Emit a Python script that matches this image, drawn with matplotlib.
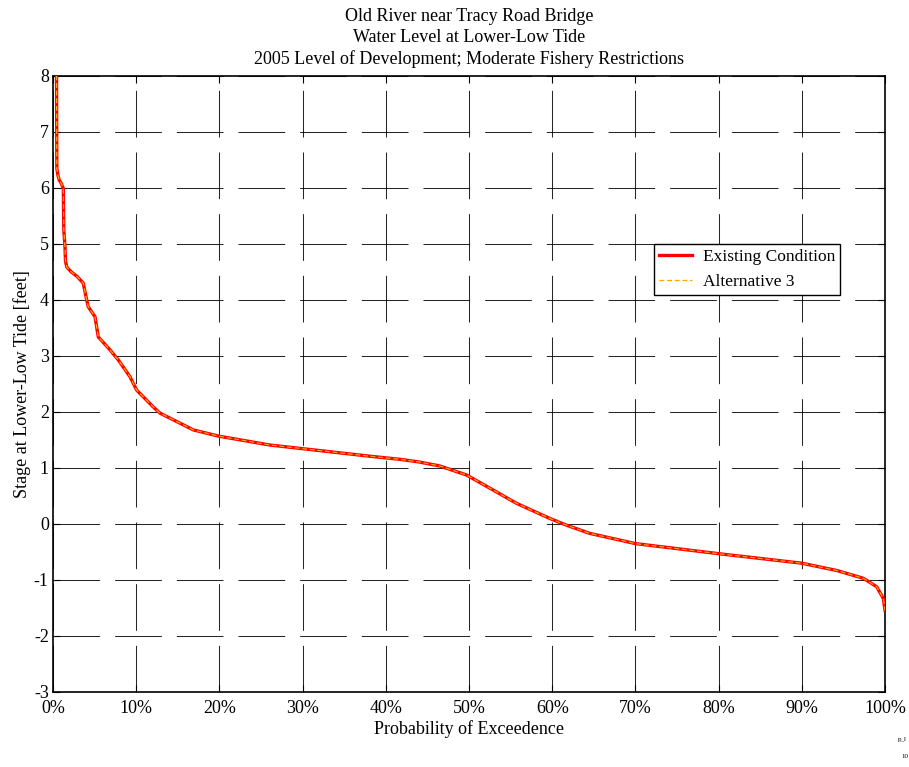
import matplotlib
matplotlib.use("Agg")
import matplotlib.pyplot as plt
from matplotlib.ticker import FixedLocator, FuncFormatter

plt.rcParams['font.family'] = ['Liberation Serif', 'DejaVu Serif']
plt.rcParams['axes.unicode_minus'] = False
plt.rcParams['lines.scale_dashes'] = False

# Probability of exceedence (%) and stage (feet)
exceed_pct = [0.0, 0.30, 0.42, 0.46, 0.60, 0.76, 1.00, 1.24, 1.30, 1.44, 1.50, 1.65,
              2.20, 2.90, 3.64, 4.05, 4.24, 5.05, 5.44, 6.85, 7.85, 9.25, 10.06,
              12.05, 12.86, 14.06, 16.87, 19.87, 26.08, 32.1, 38.1, 41.7,
              43.9, 46.5, 49.7, 52.9, 55.7, 59.7, 61.7, 64.5, 70.0, 80.0,
              90.0, 94.2, 97.4, 99.0, 99.8, 100.0]
existing = [12.0, 9.5, 8.2, 6.35, 6.22, 6.14, 6.08, 5.99, 5.25, 4.95, 4.70, 4.59,
            4.50, 4.42, 4.30, 4.00, 3.88, 3.70, 3.34, 3.11, 2.93, 2.63, 2.39,
            2.09, 1.98, 1.89, 1.68, 1.57, 1.41, 1.31, 1.21, 1.155,
            1.11, 1.036, 0.875, 0.607, 0.37, 0.10, -0.02, -0.167, -0.35, -0.53,
            -0.70, -0.83, -0.97, -1.12, -1.33, -1.54]
alternative3 = [12.0, 9.5, 8.2, 6.35, 6.22, 6.14, 6.08, 5.99, 5.25, 4.95, 4.70, 4.59,
                4.50, 4.42, 4.30, 4.00, 3.88, 3.70, 3.34, 3.11, 2.93, 2.63, 2.39,
                2.09, 1.98, 1.89, 1.68, 1.57, 1.41, 1.31, 1.21, 1.155,
                1.11, 1.036, 0.875, 0.607, 0.37, 0.10, -0.02, -0.167, -0.35, -0.53,
                -0.70, -0.83, -0.97, -1.12, -1.33, -1.54]
x_ticks = [0, 10, 20, 30, 40, 50, 60, 70, 80, 90, 100]
y_ticks = [-3, -2, -1, 0, 1, 2, 3, 4, 5, 6, 7, 8]
title_lines = ["Old River near Tracy Road Bridge",
               "Water Level at Lower-Low Tide",
               "2005 Level of Development; Moderate Fishery Restrictions"]

fig = plt.figure(figsize=(9.09, 7.67), dpi=100)
ax = fig.add_axes([53/909, 1-692/767, (885-53)/909, (692-76)/767])

ax.plot(exceed_pct, existing, color='#FF0000', lw=2.4, label='Existing Condition',
        solid_joinstyle='round', zorder=3)
ax.plot(exceed_pct, alternative3, color='#FFA500', lw=0.9, linestyle=(0, (3.5, 2.0)),
        label='Alternative 3', zorder=4)

ax.set_xlim(0, 100)
ax.set_ylim(-3, 8)
ax.xaxis.set_major_locator(FixedLocator(x_ticks))
ax.yaxis.set_major_locator(FixedLocator(y_ticks))
ax.xaxis.set_major_formatter(FuncFormatter(lambda v, p: "%d%%" % round(v)))
ax.yaxis.set_major_formatter(FuncFormatter(lambda v, p: "%d" % round(v)))

ax.tick_params(direction='in', length=5, width=0.8, top=True, right=True,
               labelsize=13, pad=3, colors='black')
ax.tick_params(axis='x', pad=6)
for s in ax.spines.values():
    s.set_linewidth(1.2)
    s.set_color('black')

ax.grid(True, color='black', lw=0.75, linestyle=(0, (33.6, 10.8)), alpha=0.85)
ax.set_axisbelow(True)

ax.set_xlabel("Probability of Exceedence", fontsize=13, labelpad=2)
ax.set_ylabel("Stage at Lower-Low Tide [feet]", fontsize=13, labelpad=2)
ax.set_title("\n".join(title_lines), fontsize=13, pad=9, linespacing=1.27)

leg = ax.legend(loc='upper left', bbox_to_anchor=((654-53)/832, (692-244)/616),
                fontsize=12.5, frameon=True, fancybox=False, framealpha=1,
                edgecolor='black', borderpad=0.3, handlelength=1.9,
                handletextpad=0.6, labelspacing=0.5, borderaxespad=0)
leg.get_frame().set_linewidth(1.0)

fig.text(898/909, 1-740/767, "p_l", fontsize=5, ha='left', va='center')
fig.text(901/909, 1-757/767, "10", fontsize=5, ha='left', va='center')

fig.savefig("out.png", dpi=100)
